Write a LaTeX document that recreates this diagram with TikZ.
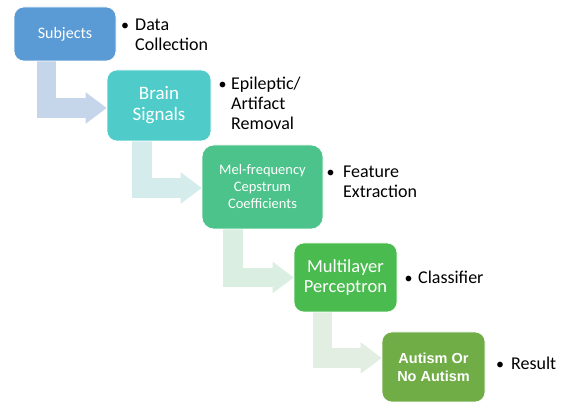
\documentclass[tikz,border=0pt]{standalone}
\usepackage{fontspec}
\setmainfont{Carlito}
\newfontfamily\arialfont{Liberation Sans}
\usetikzlibrary{arrows.meta,calc}
\definecolor{cA}{HTML}{5B9BD5}
\definecolor{cB}{HTML}{4FCCC9}
\definecolor{cC}{HTML}{4CC38A}
\definecolor{cD}{HTML}{4ABB4F}
\definecolor{cE}{HTML}{70AD47}
\definecolor{aA}{HTML}{C5D6EB}
\definecolor{aB}{HTML}{D4ECEC}
\definecolor{aC}{HTML}{DAEEE2}
\definecolor{aD}{HTML}{E3EEE3}
\pgfdeclarelayer{arrowlayer}
\pgfsetlayers{arrowlayer,main}
\begin{document}
\begin{tikzpicture}[x=1pt,y=-1pt,
  stagebox/.style={rectangle, rounded corners=10pt, draw=white, line width=0.6pt,
    text=white, align=center, inner sep=0pt},
  flow/.style={line width=19.5pt, line join=miter, line cap=butt,
    -{Triangle[length=21pt,width=30pt]}},
  bul/.style={anchor=base, inner sep=0pt, font=\fontsize{16}{20}\selectfont},
  lbl/.style={anchor=base west, inner sep=0pt, font=\fontsize{18}{20}\selectfont}]
\useasboundingbox (0,0) rectangle (563,403);

\node[stagebox, fill=cA, minimum width=102pt, minimum height=54pt,
  font=\fontsize{16}{19}\selectfont] (b1) at (65,34) {Subjects};
\node[stagebox, fill=cB, minimum width=104pt, minimum height=71pt,
  font=\fontsize{19}{21}\selectfont] (b2) at (159,105.5) {Brain\\Signals};
\node[stagebox, fill=cC, minimum width=121pt, minimum height=84pt, rounded corners=12pt,
  font=\fontsize{14.5}{17}\selectfont] (b3) at (262.5,187) {Mel-frequency\\Cepstrum\\Coefficients};
\node[stagebox, fill=cD, minimum width=103pt, minimum height=69pt,
  font=\fontsize{18.5}{20}\selectfont] (b4) at (345.5,277.5) {Multilayer\\Perceptron};
\node[stagebox, fill=cE, minimum width=103pt, minimum height=70pt,
  font=\arialfont\bfseries\fontsize{14.5}{18}\selectfont] (b5) at (433.5,367) {Autism Or\\No Autism};

\begin{pgfonlayer}{arrowlayer}
\fill[white] (0,0) rectangle (563,403);
\draw[flow, aA] ([xshift=33pt,yshift=2pt]b1.south west) |- ([yshift=-2.5pt]b2.west);
\draw[flow, aB] ([xshift=35.5pt,yshift=2pt]b2.south west) |- ([yshift=-1pt]b3.west);
\draw[flow, aC] ([xshift=31.5pt,yshift=2pt]b3.south west) |- (b4.west);
\draw[flow, aD] ([xshift=29pt,yshift=2pt]b4.south west) |- ([yshift=9pt]b5.west);
\end{pgfonlayer}

\node[bul] (d1) at (125,31) {•};
\node[lbl] (l1) at (135,31) {\begin{tabular}[t]{@{}l@{}}Data\\Collection\end{tabular}};
\node[bul] (d2) at (222.5,90) {•};
\node[lbl] (l2) at (231,90) {\begin{tabular}[t]{@{}l@{}}Epileptic/\\Artifact\\Removal\end{tabular}};
\node[bul] (d3) at (330.5,178) {•};
\node[lbl] (l3) at (343,178) {\begin{tabular}[t]{@{}l@{}}Feature\\Extraction\end{tabular}};
\node[bul] (d4) at (408.5,284) {•};
\node[lbl] (l4) at (418,284) {Classifier};
\node[bul] (d5) at (500,370) {•};
\node[lbl] (l5) at (511,370) {Result};
\end{tikzpicture}
\end{document}
